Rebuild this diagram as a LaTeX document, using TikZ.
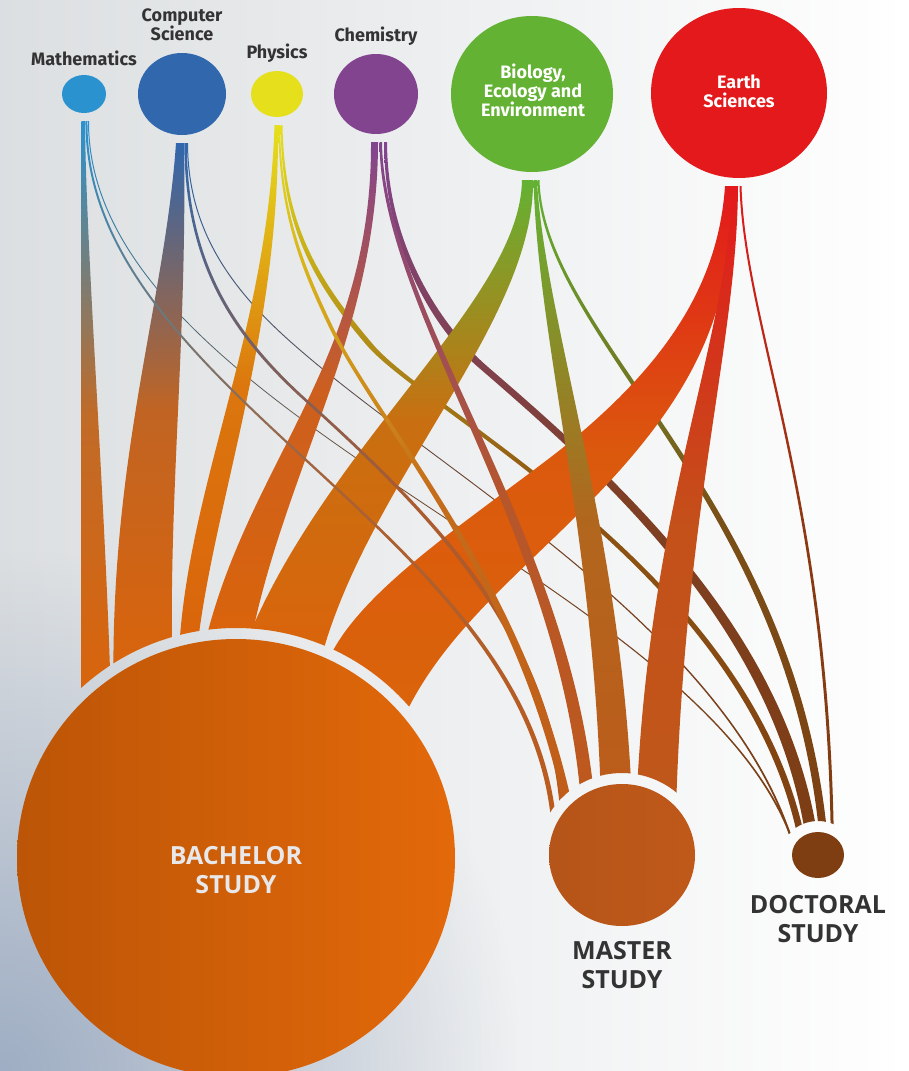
\documentclass[tikz,border=0pt]{standalone}
\usepackage{fontspec}
\setmainfont{Fira Sans}
\newfontfamily\capsfont{Open Sans}
\usetikzlibrary{positioning,shapes.geometric,fadings}
\definecolor{mathc}{HTML}{2A92CF}
\definecolor{csc}{HTML}{3067AD}
\definecolor{physc}{HTML}{E5DF1C}
\definecolor{chemc}{HTML}{82448F}
\definecolor{bioc}{HTML}{63B233}
\definecolor{earthc}{HTML}{E3191B}
\definecolor{bachc}{HTML}{DA640B}
\definecolor{bachl}{HTML}{BC5507}
\definecolor{bachr}{HTML}{E3690A}
\definecolor{mastc}{HTML}{BF591A}
\definecolor{doctc}{HTML}{7E3E12}
\definecolor{txtc}{HTML}{333333}
\definecolor{bachtxt}{HTML}{E8E8EA}
\definecolor{bgl}{HTML}{DCDFE1}
\definecolor{bgm}{HTML}{F3F4F5}
\definecolor{bgblue}{HTML}{9FAEC4}
\tikzfading[name=cornerfade, inner color=transparent!0, outer color=transparent!100]
\pgfdeclarelayer{background}
\pgfsetlayers{background,main}

\begin{document}
\begin{tikzpicture}[
x=1pt, y=-1pt,
src/.style={ellipse, inner sep=0pt},
tgt/.style={ellipse, inner sep=0pt},
lbl/.style={font=\bfseries\fontsize{18}{19}\selectfont, text=txtc, align=center},
big/.style={font=\capsfont\bfseries\fontsize{25}{29}\selectfont, text=txtc, align=center},
flow/.style 2 args={top color=#1, bottom color=#2, middle color=#2!85!#1}
]
\useasboundingbox (0,0) rectangle (909,1071);

\node[src, fill=mathc, minimum width=44pt, minimum height=38pt] (math) at (84,94) {};
\node[src, fill=csc, minimum width=88pt, minimum height=82pt] (cs) at (182,94) {};
\node[src, fill=physc, minimum width=52pt, minimum height=46pt] (phys) at (277,94) {};
\node[src, fill=chemc, minimum width=84pt, minimum height=80pt] (chem) at (376,94) {};
\node[src, fill=bioc, minimum width=162pt, minimum height=156pt] (bio) at (532,94) {};
\node[src, fill=earthc, minimum width=176pt, minimum height=170pt] (earth) at (739,93) {};

\node[lbl, above=5pt of math] (mathlbl) {Mathematics};
\node[lbl, above=8pt of cs] (cslbl) {Computer\\Science};
\node[lbl, above=5pt of phys] (physlbl) {Physics};
\node[lbl, above=5pt of chem] (chemlbl) {Chemistry};
\node[lbl, text=white] (biolbl) at (533,90) {Biology,\\Ecology and\\Environment};
\node[lbl, text=white] (earthlbl) at (739,91) {Earth\\Sciences};

\node[tgt, left color=bachl, right color=bachr, minimum size=438pt] (bach) at (236,858) {};
\node[tgt, left color=mastc!95!black, right color=mastc, minimum width=146pt, minimum height=142pt] (mast) at (622,855) {};
\node[tgt, fill=doctc, minimum width=52pt, minimum height=46pt] (doct) at (818,855) {};

\node[big, text=bachtxt] (bachlbl) at (236,870) {BACHELOR\\STUDY};
\node[big, below=12pt of mast] (mastlbl) {MASTER\\STUDY};
\node[big, below=14pt of doct] (doctlbl) {DOCTORAL\\STUDY};

\begin{pgfonlayer}{background}
\fill[left color=bgl, middle color=bgm, right color=white] (0,0) rectangle (909,1071);
\fill[bgblue, path fading=cornerfade] (-520,551) rectangle (520,1591);

\begin{scope}[even odd rule]
\clip (0,0) rectangle (909,1071) (bach.center) circle (230pt)
  (mast.center) ellipse (84pt and 82pt) (doct.center) ellipse (37pt and 34pt);

% doctoral
\path[flow={mathc}{doctc}] ([shift={(4,8)}]math.south) .. controls (87.5,420) and (719,580) .. ([xshift=-22pt]doct.center)
  -- ([xshift=-20pt]doct.center) .. controls (721,580) and (88.5,420) .. ([shift={(5,8)}]math.south) -- cycle;
\path[flow={csc}{doctc}] ([shift={(5,8)}]cs.south) .. controls (187.5,230) and (229.4,290) .. (299.3,350)
  .. controls (449.3,480) and (739,640) .. ([xshift=-23pt]doct.center)
  -- ([xshift=-21pt]doct.center) .. controls (741,640) and (450.7,480) .. (300.7,350)
  .. controls (230.6,290) and (188.5,230) .. ([shift={(6,8)}]cs.south) -- cycle;
\path[flow={physc}{doctc}] ([shift={(3.5,8)}]phys.south) .. controls (282,220) and (306.5,275) .. (366.5,345)
  .. controls (426.5,415) and (757,580) .. ([xshift=-17pt]doct.center)
  -- ([xshift=-10pt]doct.center) .. controls (763,580) and (433.5,415) .. (373.5,345)
  .. controls (313.5,275) and (284,220) .. ([shift={(5.5,8)}]phys.south) -- cycle;
\path[flow={chemc}{doctc}] ([shift={(8,8)}]chem.south) .. controls (384.5,250) and (435,330) .. (478,367)
  .. controls (615,485) and (784,640) .. ([xshift=-10pt]doct.center)
  -- ([xshift=2pt]doct.center) .. controls (796,640) and (625,485) .. (488,367)
  .. controls (445,330) and (387.5,250) .. ([shift={(11,8)}]chem.south) -- cycle;
\path[flow={bioc}{doctc}] ([shift={(5.5,8)}]bio.south) .. controls (540,340) and (796,500) .. ([xshift=3pt]doct.center)
  -- ([xshift=11pt]doct.center) .. controls (804,500) and (544,340) .. ([shift={(7.5,8)}]bio.south) -- cycle;
\path[flow={earthc}{doctc}] ([shift={(0.5,8)}]earth.south) .. controls (744,330) and (828.5,500) .. ([xshift=13pt]doct.center)
  -- ([xshift=16pt]doct.center) .. controls (831.5,500) and (746,330) .. ([shift={(2.5,8)}]earth.south) -- cycle;

% bachelor
\path[flow={mathc}{bachc}] ([shift={(-2.5,8)}]math.south) .. controls (81,350) and (81,560) .. (bach.135)
  -- (bach.125) .. controls (104,480) and (86,250) .. ([shift={(1,8)}]math.south) -- cycle;
\path[flow={csc}{bachc}] ([shift={(-6,8)}]cs.south) .. controls (165,300) and (112,450) .. (bach.124)
  -- (bach.107) .. controls (170,480) and (187,330) .. ([shift={(2,8)}]cs.south) -- cycle;
\path[flow={physc}{bachc}] ([shift={(-2.5,8)}]phys.south) .. controls (268,330) and (190,480) .. (bach.105)
  -- (bach.100) .. controls (215,500) and (280,330) .. ([shift={(1,8)}]phys.south) -- cycle;
\path[flow={chemc}{bachc}] ([shift={(-5,8)}]chem.south) .. controls (372,360) and (250,460) .. (bach.98)
  -- (bach.86) .. controls (285,470) and (378,330) .. ([shift={(2,8)}]chem.south) -- cycle;
\path[flow={bioc}{bachc}] ([shift={(-10,8)}]bio.south) .. controls (520,300) and (330,440) .. (bach.87)
  -- (bach.67) .. controls (370,480) and (535,320) .. ([shift={(1,8)}]bio.south) -- cycle;
\path[flow={earthc}{bachc}] ([shift={(-14,8)}]earth.south) .. controls (718,290) and (660,370) .. (560,450)
  .. controls (470,520) and (360,590) .. (bach.65)
  -- (bach.40) .. controls (450,620) and (540,560) .. (620,470)
  .. controls (700,380) and (735,300) .. ([shift={(-7,8)}]earth.south) -- cycle;

% master
\path[flow={mathc}{mastc}] ([shift={(1.5,8)}]math.south) .. controls (83,400) and (557.5,540) .. ([xshift=-69.5pt]mast.center)
  -- ([xshift=-64.5pt]mast.center) .. controls (562.5,540) and (85,400) .. ([shift={(3.5,8)}]math.south) -- cycle;
\path[flow={csc}{mastc}] ([shift={(2.3,8)}]cs.south) .. controls (184.8,260) and (228,330) .. (298,395)
  .. controls (448,530) and (562,650) .. ([xshift=-60pt]mast.center)
  -- ([xshift=-54pt]mast.center) .. controls (568,650) and (452,530) .. (302,395)
  .. controls (232,330) and (187.2,260) .. ([shift={(4.8,8)}]cs.south) -- cycle;
\path[flow={physc}{mastc}] ([shift={(1.3,8)}]phys.south) .. controls (279,210) and (298,262) .. (328,325)
  .. controls (378,430) and (536,600) .. ([xshift=-50pt]mast.center)
  -- ([xshift=-41pt]mast.center) .. controls (545,600) and (382,430) .. (332,325)
  .. controls (302,262) and (281,210) .. ([shift={(3,8)}]phys.south) -- cycle;
\path[flow={chemc}{mastc}] ([shift={(3.5,8)}]chem.south) .. controls (380,320) and (584,560) .. ([xshift=-39pt]mast.center)
  -- ([xshift=-25pt]mast.center) .. controls (596,560) and (384,320) .. ([shift={(6,8)}]chem.south) -- cycle;
\path[flow={bioc}{mastc}] ([shift={(1.5,8)}]bio.south) .. controls (538,350) and (600,550) .. ([xshift=-20pt]mast.center)
  -- ([xshift=11pt]mast.center) .. controls (632,560) and (545,330) .. ([shift={(5,8)}]bio.south) -- cycle;
\path[flow={earthc}{mastc}] ([shift={(-7,8)}]earth.south) .. controls (728,350) and (640,520) .. ([xshift=13pt]mast.center)
  -- ([xshift=53pt]mast.center) .. controls (680,520) and (737,350) .. ([shift={(-1,8)}]earth.south) -- cycle;
\end{scope}
\end{pgfonlayer}
\end{tikzpicture}
\end{document}
